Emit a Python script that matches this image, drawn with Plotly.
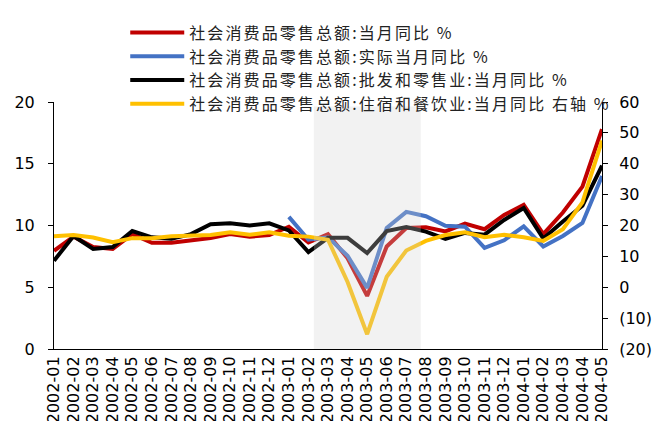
import plotly.graph_objects as go

# Month labels (x categories)
months = [
    "2002-01", "2002-02", "2002-03", "2002-04", "2002-05", "2002-06",
    "2002-07", "2002-08", "2002-09", "2002-10", "2002-11", "2002-12",
    "2003-01", "2003-02", "2003-03", "2003-04", "2003-05", "2003-06",
    "2003-07", "2003-08", "2003-09", "2003-10", "2003-11", "2003-12",
    "2004-01", "2004-02", "2004-03", "2004-04", "2004-05",
]

# 社会消费品零售总额:当月同比 (%)
retail_yoy = [
    7.95, 9.1, 8.25, 8.1, 9.3, 8.6, 8.6, 8.75, 8.98, 9.3, 9.1, 9.22,
    9.9, 8.62, 9.3, 7.35, 4.3, 8.3, 9.8, 9.85, 9.52, 10.15, 9.7, 10.85,
    11.68, 9.3, 11.05, 13.15, 17.8,
]

# 社会消费品零售总额:实际当月同比 (%), starts 2003-01
retail_real_yoy = [
    None, None, None, None, None, None, None, None, None, None, None, None,
    10.7, 8.85, 9.05, 7.55, 4.95, 9.8, 11.1, 10.75, 9.98, 9.9, 8.18, 8.8,
    9.93, 8.3, 9.15, 10.2, 14.0,
]

# 社会消费品零售总额:批发和零售业:当月同比 (%)
wholesale_retail_yoy = [
    7.15, 9.15, 8.1, 8.25, 9.55, 9.04, 8.92, 9.3, 10.1, 10.18, 10.0, 10.18,
    9.6, 7.85, 9.0, 9.0, 7.77, 9.55, 9.88, 9.5, 8.92, 9.4, 9.26, 10.45,
    11.42, 8.95, 10.33, 11.6, 14.85,
]

# 社会消费品零售总额:住宿和餐饮业:当月同比 (%), right axis
catering_yoy = [
    16.5, 16.9, 16.1, 14.6, 15.9, 15.9, 16.5, 16.6, 16.9, 17.8, 17.0, 17.8,
    16.7, 16.4, 15.4, 1.7, -15.2, 3.4, 11.9, 15.0, 16.9, 17.8, 16.2, 17.0,
    16.2, 15.0, 18.8, 27.5, 47.5,
]

series_names = [
    "社会消费品零售总额:当月同比 %",
    "社会消费品零售总额:实际当月同比 %",
    "社会消费品零售总额:批发和零售业:当月同比 %",
    "社会消费品零售总额:住宿和餐饮业:当月同比 右轴 %",
]

left_ticks = [0, 5, 10, 15, 20]
right_ticks = [-20, -10, 0, 10, 20, 30, 40, 50, 60]
right_ticktext = ["(20)", "(10)", "0", "10", "20", "30", "40", "50", "60"]

# Highlighted period (SARS months)
shade_from, shade_to = "2003-03", "2003-07"

colors = ["#C00000", "#4472C4", "#000000", "#FFC000"]

fig = go.Figure()
for name, vals, col in zip(series_names[:3],
                           [retail_yoy, retail_real_yoy, wholesale_retail_yoy],
                           colors[:3]):
    fig.add_trace(go.Scatter(x=months, y=vals, name=name, mode="lines",
                             line=dict(color=col, width=4),
                             connectgaps=False, yaxis="y"))
fig.add_trace(go.Scatter(x=months, y=catering_yoy, name=series_names[3],
                         mode="lines", line=dict(color=colors[3], width=4),
                         yaxis="y2"))

i0 = months.index(shade_from)
i1 = months.index(shade_to)
fig.add_shape(type="rect", xref="x", yref="paper",
              x0=i0 - 0.72, x1=i1 + 0.74, y0=0, y1=0.982,
              fillcolor="rgba(210,210,210,0.29)", line=dict(width=0),
              layer="above")

num_font = dict(family="DejaVu Sans, Arial, sans-serif", size=16, color="#000")

fig.update_layout(
    width=653, height=421,
    margin=dict(l=54, r=51, t=102, b=72, autoexpand=False),
    paper_bgcolor="white", plot_bgcolor="white",
    showlegend=True,
    legend=dict(
        x=0.13, y=1.35, xanchor="left", yanchor="top",
        orientation="v", itemwidth=54, bgcolor="rgba(0,0,0,0)",
        borderwidth=0,
        font=dict(family="Noto Sans CJK SC", size=16, color="#222"),
    ),
    xaxis=dict(
        type="category", range=[0, len(months) - 1], automargin=False,
        showline=True, linecolor="#000", linewidth=1,
        ticks="", tickangle=-90, tickfont=num_font,
        showgrid=False, zeroline=False, fixedrange=True,
    ),
    yaxis=dict(
        range=[0, 20], tickvals=left_ticks, automargin=False,
        showline=True, linecolor="#000", linewidth=1,
        ticks="outside", ticklen=5, tickcolor="#000",
        ticklabelstandoff=10,
        tickfont=num_font, showgrid=False, zeroline=False,
    ),
    yaxis2=dict(
        range=[-20, 60], tickvals=right_ticks, ticktext=right_ticktext,
        overlaying="y", side="right", automargin=False,
        showline=True, linecolor="#000", linewidth=1,
        ticks="outside", ticklen=5, tickcolor="#000",
        ticklabelstandoff=8,
        tickfont=num_font, showgrid=False, zeroline=False,
    ),
)

# Wider glyph spacing for the legend labels; let the longer labels run past
# the legend's own clip box
spacing_js = """
document.querySelectorAll('.legendtext').forEach(function (t) {
  t.style.letterSpacing = '2.1px';
});
document.querySelectorAll('.legend .scrollbox').forEach(function (g) {
  g.removeAttribute('clip-path');
});
"""

fig.write_html("out.html", post_script=spacing_js)
